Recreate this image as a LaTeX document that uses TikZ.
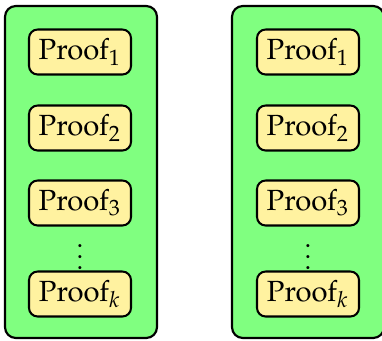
\documentclass[tikz,border=0pt]{standalone}
\usepackage[T1]{fontenc}
\usepackage{mathpazo}
\begin{document}
\definecolor{panelgreen}{RGB}{128,255,128}
\definecolor{proofyellow}{RGB}{255,242,160}
\begin{tikzpicture}[x=0.37pt,y=-0.37pt,
  panel/.style={draw=black,fill=panelgreen,line width=0.8pt,rounded corners=4pt,
    inner sep=0pt,minimum width=152*0.37pt,minimum height=332*0.37pt},
  proofbox/.style={draw=black,fill=proofyellow,line width=0.75pt,rounded corners=3.2pt,
    inner sep=0pt,minimum width=102*0.37pt,minimum height=45*0.37pt,
    font=\fontsize{10.8}{13}\selectfont},
  dotsnode/.style={inner sep=0pt}]
  \useasboundingbox (0,0) rectangle (382,340);
  % left column
  \node[panel] (L) at (81,172) {};
  \node[proofbox] (L1) at (80,52) {Proof$_1$};
  \node[proofbox] (L2) at (80,128) {Proof$_2$};
  \node[proofbox] (L3) at (80,203) {Proof$_3$};
  \node[dotsnode] (Ld) at (80,249) {$\vdots$};
  \node[proofbox] (Lk) at (80,294) {Proof$_k$};
  % right column
  \node[panel] (R) at (308,172) {};
  \node[proofbox] (R1) at (308,52) {Proof$_1$};
  \node[proofbox] (R2) at (308,128) {Proof$_2$};
  \node[proofbox] (R3) at (308,203) {Proof$_3$};
  \node[dotsnode] (Rd) at (308,249) {$\vdots$};
  \node[proofbox] (Rk) at (308,294) {Proof$_k$};
\end{tikzpicture}
\end{document}
